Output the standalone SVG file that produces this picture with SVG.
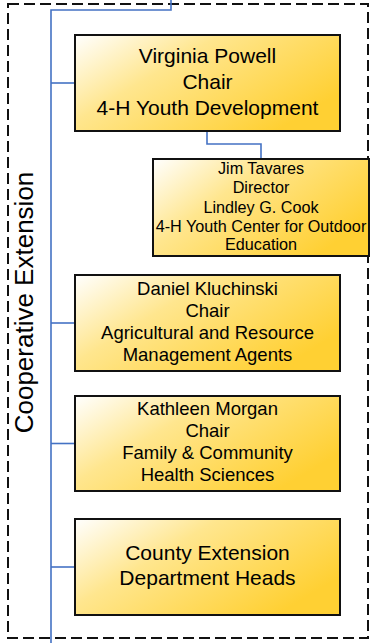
<svg xmlns="http://www.w3.org/2000/svg" width="370" height="643" viewBox="0 0 370 643">
<defs>
<linearGradient id="gold" x1="0" y1="0" x2="1" y2="0.6">
<stop offset="0" stop-color="#FFFFFF"/>
<stop offset="0.4" stop-color="#FFE68E"/>
<stop offset="1" stop-color="#FFD033"/>
</linearGradient>
<style>
.box{fill:url(#gold);stroke:#111;stroke-width:2}
.conn{fill:none;stroke:#4472C4;stroke-width:1.6}
.t{font-family:"Liberation Sans",Arial,sans-serif;fill:#000;text-anchor:middle}
.f20{font-size:21px}
.f18{font-size:18.5px}
.f16{font-size:16.2px}
</style>
</defs>
<rect x="8" y="4" width="360" height="634" fill="none" stroke="#111" stroke-width="2" stroke-dasharray="11 5"/>
<text class="t" font-size="26px" transform="translate(33,302.5) rotate(-90)">Cooperative Extension</text>
<g id="connectors">
<path class="conn" d="M171,0 V10 H51 V643"/>
<path class="conn" d="M51,83 H75"/>
<path class="conn" d="M207,131 V144 H261 V159"/>
<path class="conn" d="M51,323 H75"/>
<path class="conn" d="M51,443.5 H75"/>
<path class="conn" d="M51,567 H75"/>
</g>
<g id="powell">
<rect class="box" x="75" y="35" width="265" height="96"/>
<text class="t f20" x="207.5" y="63">Virginia Powell</text>
<text class="t f20" x="207.5" y="89">Chair</text>
<text class="t f20" x="207.5" y="115">4-H Youth Development</text>
</g>
<g id="tavares">
<rect class="box" x="153" y="159" width="216" height="97"/>
<text class="t f16" x="261" y="174">Jim Tavares</text>
<text class="t f16" x="261" y="193">Director</text>
<text class="t f16" x="261" y="213">Lindley G. Cook</text>
<text class="t f16" x="261" y="232">4-H Youth Center for Outdoor</text>
<text class="t f16" x="261" y="250">Education</text>
</g>
<g id="kluchinski">
<rect class="box" x="75" y="275" width="265" height="96"/>
<text class="t f18" x="207.5" y="295">Daniel Kluchinski</text>
<text class="t f18" x="207.5" y="317">Chair</text>
<text class="t f18" x="207.5" y="339">Agricultural and Resource</text>
<text class="t f18" x="207.5" y="361">Management Agents</text>
</g>
<g id="morgan">
<rect class="box" x="75" y="396" width="265" height="95"/>
<text class="t f18" x="207.5" y="415">Kathleen Morgan</text>
<text class="t f18" x="207.5" y="437">Chair</text>
<text class="t f18" x="207.5" y="459">Family &amp; Community</text>
<text class="t f18" x="207.5" y="481">Health Sciences</text>
</g>
<g id="county">
<rect class="box" x="75" y="519" width="265" height="96"/>
<text class="t f20" x="207.5" y="560">County Extension</text>
<text class="t f20" x="207.5" y="585">Department Heads</text>
</g>
</svg>
